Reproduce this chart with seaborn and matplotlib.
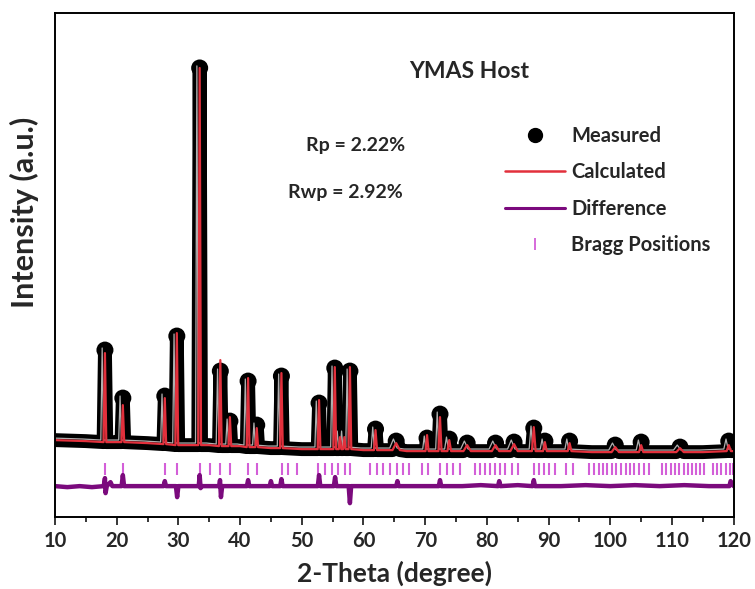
import numpy as np
import pandas as pd
import seaborn as sns
import matplotlib
matplotlib.use("Agg")
import matplotlib.pyplot as plt
import matplotlib.transforms as mtrans
from matplotlib.lines import Line2D

# ---- data (2-theta in degree, intensity in a.u.) ----
peak_pos = [18.1, 21.0, 27.8, 29.75, 33.45, 36.8, 38.35, 41.3, 42.7, 46.7,
            52.8, 55.35, 56.2, 56.9, 57.8, 61.95, 65.3, 70.3, 72.4, 73.9,
            76.8, 81.4, 84.4, 87.6, 89.4, 93.4, 100.8, 105.0, 111.3, 119.2]
calc_top = [164, 112, 119, 184, 449, 157, 100, 139, 89, 144,
            117, 150, 80, 80, 150, 87, 74, 82, 100, 77,
            72, 72, 73, 90, 75, 74, 70, 72, 69, 72]
obs_top = [167, 119, 121, 181, 449, 146, 96, 136, 92, 141,
           114, 149, 84, 84, 146, 88, 76, 79, 103, 78,
           74, 74, 75, 89, 76, 76, 72, 75, 70, 76]
peak_base = [75, 75, 73, 72, 72, 71, 71, 70, 70, 69,
             68, 68, 68, 68, 68, 67, 67, 66, 66, 66,
             66, 66, 66, 66, 66, 66, 65, 65, 65, 66]
peak_width = [0.22, 0.22, 0.22, 0.22, 0.22, 0.22, 0.22, 0.22, 0.22, 0.22,
              0.22, 0.22, 0.2, 0.2, 0.22, 0.25, 0.6, 0.25, 0.25, 0.3,
              0.6, 0.6, 0.6, 0.3, 0.3, 0.3, 0.6, 0.35, 0.6, 0.35]

bg_x = [10, 15, 20, 25, 30, 35, 40, 45, 50, 60, 67, 80, 97, 115, 120]
bg_y = [77, 76, 75, 74, 72, 72, 71, 69, 68, 67, 66, 66, 65, 65, 66]

diff_x = [10, 12, 14, 16, 17.9, 18.1, 18.2, 18.4, 19.0, 19.3, 20.8, 21.0, 21.2,
          24, 27.6, 27.8, 28.0, 29.6, 29.8, 30.0, 33.3, 33.45, 33.6, 33.8,
          36.6, 36.75, 36.9, 37.1, 41.1, 41.3, 41.5, 44.8, 45.0, 45.2,
          46.5, 46.7, 46.9, 50, 52.6, 52.8, 53.0, 55.2, 55.4, 55.6,
          57.6, 57.8, 58.0, 62, 65.3, 65.5, 65.7, 69, 72.2, 72.4, 72.6,
          76, 79, 81.8, 82.0, 82.2, 85, 87.4, 87.6, 87.8, 92, 96, 100,
          104, 108, 112, 116, 119.3, 119.5, 120]
diff_y = [31, 30, 31, 30, 31, 39, 24, 31, 35, 31, 31, 42, 31,
          31, 31, 36, 31, 31, 20, 31, 31, 42, 29, 31,
          31, 37, 20, 31, 31, 37, 31, 31, 36, 31,
          31, 38, 31, 31, 31, 42, 31, 31, 40, 31,
          31, 14, 31, 31, 31, 36, 31, 31, 31, 37, 31,
          31, 32, 31, 36, 31, 32, 31, 37, 31, 31, 32, 31,
          32, 31, 32, 31, 31, 36, 31]

bragg_pos = [18.10, 20.97, 27.83, 29.82, 33.50, 35.12, 36.74, 38.36, 41.33,
             42.69, 46.74, 47.82, 49.17, 52.68, 53.76, 54.85, 55.92, 57.00,
             57.81, 61.05, 62.14, 63.21, 64.30, 65.38, 66.45, 67.37, 69.43,
             70.50, 72.40, 73.49, 74.56, 75.64, 78.07, 78.88, 79.70, 80.50,
             81.30, 82.10, 82.90, 84.00, 85.10, 87.60, 88.40, 89.20, 90.10,
             91.00, 92.80, 93.90, 96.60, 97.30, 98.10, 98.80, 99.50, 100.30,
             101.00, 101.70, 102.50, 103.20, 103.90, 104.70, 105.40, 106.30,
             108.40, 109.10, 109.80, 110.50, 111.20, 111.90, 112.60, 113.20,
             113.90, 114.60, 115.20, 116.60, 117.30, 118.00, 118.70, 119.40,
             119.90]
bragg_level = 48.5

rp_text = "Rp = 2.22%"
rwp_text = "Rwp = 2.92%"
title_text = "YMAS Host"


def build_profile(tops):
    xs, ys = [], []
    for p, t, b, w in zip(peak_pos, tops, peak_base, peak_width):
        xs += [p - w, p, p + w]
        ys += [b, t, b]
    for x, y in zip(bg_x, bg_y):
        if min(abs(x - p) for p in peak_pos) > 0.7:
            xs.append(x)
            ys.append(y)
    order = np.argsort(xs, kind="stable")
    return pd.DataFrame({"x": np.array(xs)[order], "y": np.array(ys)[order]})


obs = build_profile(obs_top)
calc = build_profile(calc_top)
diff = pd.DataFrame({"x": diff_x, "y": diff_y})
bragg = pd.DataFrame({"x": bragg_pos, "y": [bragg_level] * len(bragg_pos)})

sns.set_style("white")
plt.rcParams['font.family'] = ['Lato', 'DejaVu Sans']
plt.rcParams['font.weight'] = 'bold'

black = "black"
red = "#e2303c"
purple = "#7b0a7d"
orchid = "#d35fd8"

fig = plt.figure(figsize=(7.55, 5.89), dpi=100)
ax = fig.add_axes([0.0728, 0.122, 0.899, 0.856])

hl = mtrans.offset_copy(ax.transData, fig=fig, x=-2.0, y=1.5, units="points")

# measured (stacked spheres)
sns.lineplot(data=obs, x="x", y="y", sort=False, estimator=None, color=black,
             lw=10, solid_joinstyle="round", solid_capstyle="round", ax=ax)
sns.lineplot(data=obs, x="x", y="y", sort=False, estimator=None, color="#b0b0b0",
             lw=0.9, transform=hl, ax=ax)
sns.scatterplot(x=peak_pos, y=obs_top, s=150, color=black, edgecolor="none", ax=ax)
sns.scatterplot(x=peak_pos, y=obs_top, s=14, color="#e6e6e6", edgecolor="none",
                transform=hl, ax=ax)
# calculated
sns.lineplot(data=calc, x="x", y="y", sort=False, estimator=None, color=red,
             lw=1.6, ax=ax)
# bragg positions
sns.scatterplot(data=bragg, x="x", y="y", marker="|", s=70, color=orchid,
                linewidth=1.5, ax=ax)
# difference
sns.lineplot(data=diff, x="x", y="y", sort=False, estimator=None, color=purple,
             lw=3.2, ax=ax)

ax.set_xlim(10, 120)
ax.set_ylim(0, 504)
ax.set_yticks([])
ax.set_xticks(range(10, 121, 10))
ax.set_xticks(range(15, 120, 10), minor=True)
ax.tick_params(axis="x", which="major", direction="out", length=6, width=1.3,
               labelsize=14.5, bottom=True, pad=4)
ax.tick_params(axis="x", which="minor", direction="out", length=3.5, width=1.3,
               bottom=True)
for s in ax.spines.values():
    s.set_color("black")
    s.set_linewidth(1.4)

ax.set_xlabel("2-Theta (degree)", fontsize=19, fontweight="bold")
ax.set_ylabel("Intensity (a.u.)", fontsize=22, fontweight="bold")
ax.yaxis.set_label_coords(-0.024, 0.605)
ax.xaxis.set_label_coords(0.5, -0.087)

ax.text(0.61, 0.883, title_text, transform=ax.transAxes, ha="center", va="center",
        fontsize=16.5, fontweight="bold")
ax.text(0.443, 0.738, rp_text, transform=ax.transAxes, ha="center", va="center",
        fontsize=14, fontweight="bold")
ax.text(0.4286, 0.643, rwp_text, transform=ax.transAxes, ha="center", va="center",
        fontsize=14, fontweight="bold")

h_meas = Line2D([], [], ls="", marker="o", ms=10, color=black)
h_calc = Line2D([], [], color=red, lw=1.8)
h_diff = Line2D([], [], color=purple, lw=2.2)
h_bragg = Line2D([], [], ls="", marker="|", ms=9, mew=1.3, color=orchid)
leg = ax.legend([h_meas, h_calc, h_diff, h_bragg],
                ["Measured", "Calculated", "Difference", "Bragg Positions"],
                loc="upper left", bbox_to_anchor=(0.651, 0.791), frameon=False,
                fontsize=14.5, handlelength=3.0, handletextpad=0.3,
                labelspacing=0.8, borderaxespad=0)
for t in leg.get_texts():
    t.set_fontweight("bold")

fig.savefig("out.png", dpi=100)
